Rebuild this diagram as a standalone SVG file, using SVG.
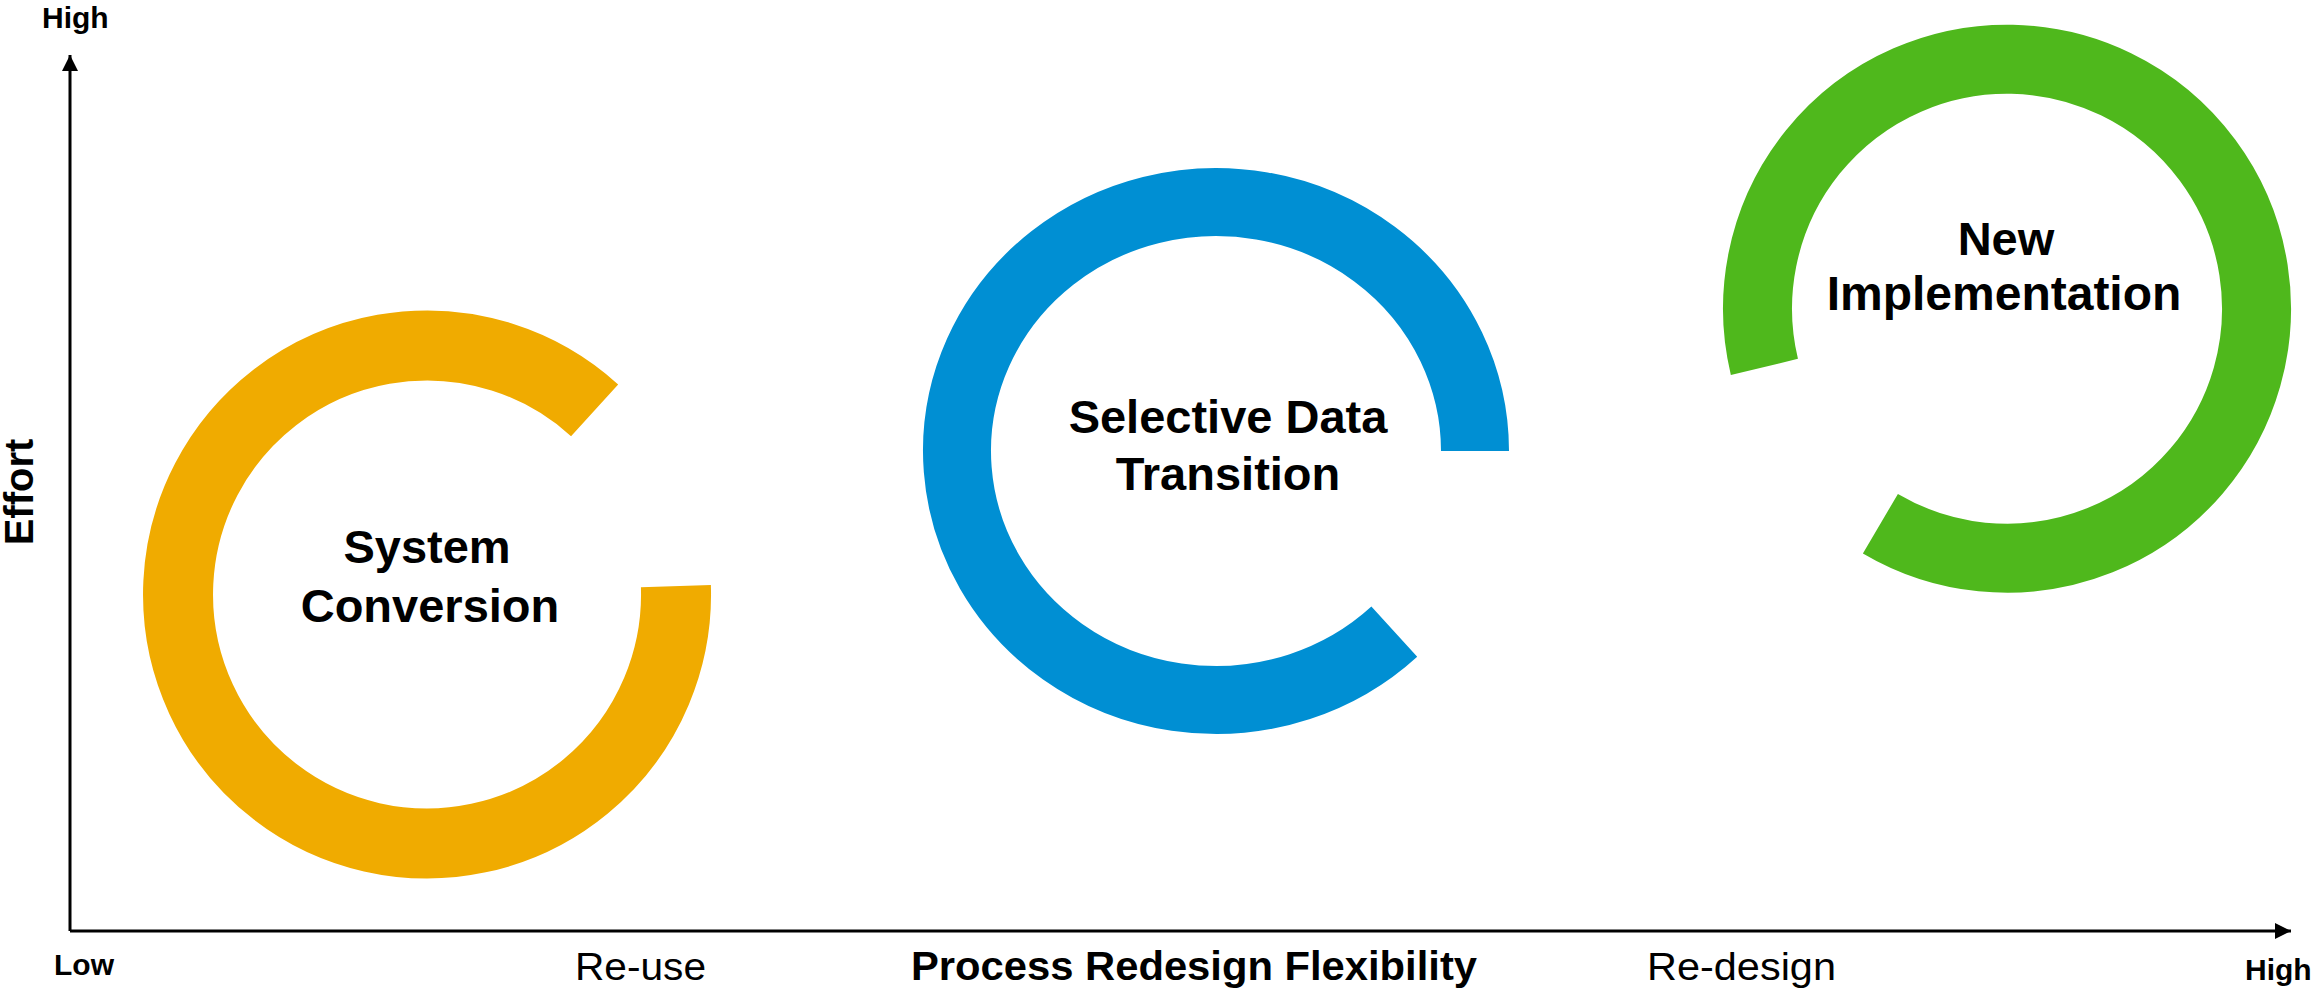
<svg xmlns="http://www.w3.org/2000/svg" width="2316" height="991" viewBox="0 0 2316 991">
<style>
.ax{stroke:#000;stroke-width:3;fill:none}
.ring{fill:none;stroke-linecap:butt}
.lbl{font-family:"Liberation Sans",Arial,sans-serif;font-weight:bold;font-size:47px;fill:#000;text-anchor:middle}
.axb{font-family:"Liberation Sans",Arial,sans-serif;font-weight:bold;font-size:30px;fill:#000}
.axr{font-family:"Liberation Sans",Arial,sans-serif;font-size:38px;fill:#000}
</style>
<defs>
<marker id="arr" viewBox="0 0 10 10" refX="10" refY="5" markerWidth="16" markerHeight="16" markerUnits="userSpaceOnUse" orient="auto">
<path d="M0,0 L10,5 L0,10 Z" fill="#000"/>
</marker>
</defs>
<g id="connectors">
<path class="ax" d="M70,931 L70,55" marker-end="url(#arr)"/>
<path class="ax" d="M70,931 L2291,931" marker-end="url(#arr)"/>
</g>
<g id="axis-labels">
<text class="axb" x="42" y="28">High</text>
<text class="axb" x="54" y="975">Low</text>
<text class="axb" x="2245" y="980">High</text>
<text class="axb" x="33" y="492" style="font-size:40px;text-anchor:middle" transform="rotate(-90 33 492)">Effort</text>
<text class="axr" x="575" y="980" textLength="131" lengthAdjust="spacingAndGlyphs">Re-use</text>
<text class="axr" x="1647" y="980" textLength="189" lengthAdjust="spacingAndGlyphs">Re-design</text>
<text class="axb" x="911" y="980" style="font-size:40px" textLength="566" lengthAdjust="spacingAndGlyphs">Process Redesign Flexibility</text>
</g>
<g id="system-conversion">
<path class="ring" stroke="#F0AB00" stroke-width="70" d="M675.9,586.2 A249,249 0 1 1 594.6,410.3"/>
<text class="lbl" x="427" y="563">System</text>
<text class="lbl" x="430" y="622">Conversion</text>
</g>
<g id="selective-data-transition">
<path class="ring" stroke="#008FD3" stroke-width="68" d="M1394.3,631.6 A259,249 0 1 1 1475,451"/>
<text class="lbl" x="1228" y="433">Selective Data</text>
<text class="lbl" x="1228" y="490">Transition</text>
</g>
<g id="new-implementation">
<path class="ring" stroke="#4FB81C" stroke-width="69" d="M1764.4,366.9 A249.5,249.5 0 1 1 1880.4,523.7"/>
<text class="lbl" x="2006" y="255">New</text>
<text class="lbl" x="2004" y="310" style="font-size:48px">Implementation</text>
</g>
</svg>
